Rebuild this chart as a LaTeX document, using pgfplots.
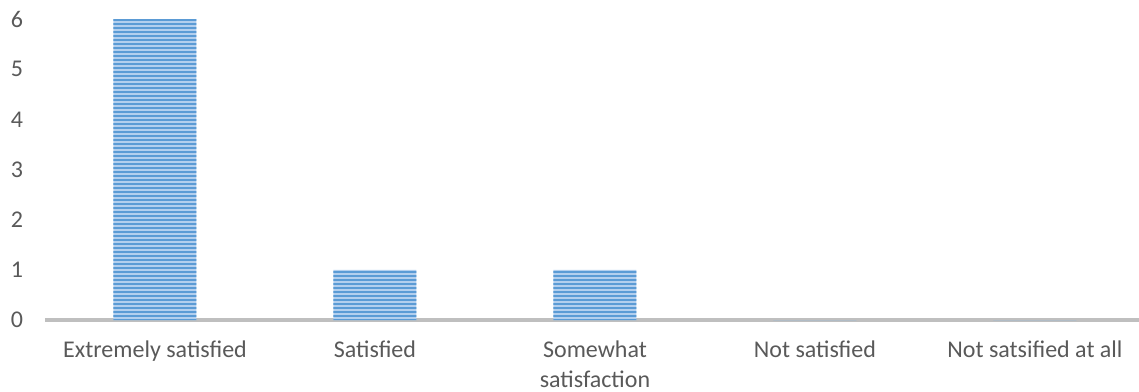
\documentclass[border=0pt]{standalone}
\usepackage{pgfplots}
\pgfplotsset{compat=1.18}
\usetikzlibrary{patterns.meta}
\usepackage{fontspec}
\setmainfont{Carlito}
\definecolor{barblue}{HTML}{5B9BD5}
\definecolor{barlight}{HTML}{B3CFEE}
\definecolor{axisgray}{HTML}{BFBFBF}
\definecolor{textgray}{HTML}{595959}
\begin{document}
\begin{tikzpicture}
\begin{axis}[
  at={(0,0)}, anchor=south west,
  scale only axis, width=547bp, height=150.5bp,
  xmin=-0.5, xmax=4.473, ymin=0, ymax=6,
  ybar, bar width=41.5bp,
  axis x line*=bottom, axis y line*=left,
  y axis line style={draw=none},
  x axis line style={-, draw=axisgray, line width=1.6bp},
  major tick length=0pt,
  xtick={0,1,2,3,4},
  xticklabels={Extremely satisfied, Satisfied, Somewhat\\satisfaction, Not satisfied, Not satsified at all},
  ytick={0,1,2,3,4,5,6},
  /pgf/number format/assume math mode=true,
  tick label style={font=\fontsize{12bp}{15bp}\selectfont, text=textgray},
  xticklabel style={align=center, yshift=-7bp},
  yticklabel style={xshift=-7.5bp},
  clip=false,
]
\addplot[draw=none, preaction={fill=barlight}, pattern={Lines[angle=0,distance=2bp,line width=1.1bp]}, pattern color=barblue] coordinates {(0,6) (1,1) (2,1) (3,0) (4,0)};
\end{axis}
\pgfresetboundingbox
\path[use as bounding box] (-22.5bp,-36bp) rectangle (547bp,160bp);
\end{tikzpicture}
\end{document}
